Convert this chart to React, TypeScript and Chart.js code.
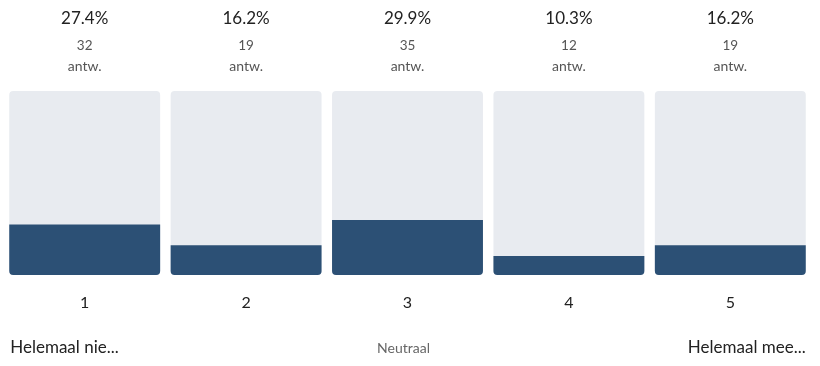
import React, { useEffect, useRef } from "react";
import { Chart, registerables } from "chart.js";

Chart.register(...registerables);

const categories = ["1", "2", "3", "4", "5"];
const percentages = [27.4, 16.2, 29.9, 10.3, 16.2];
const counts = [32, 19, 35, 12, 19];
const countUnit = "antw.";
const fullScale = [100, 100, 100, 100, 100];
const scaleLabels = ["Helemaal nie...", "Neutraal", "Helemaal mee..."];

const FONT = "Lato, 'Noto Sans', sans-serif";

const textPlugin = {
  id: "textPlugin",
  afterDraw(chart: any) {
    const { ctx, scales, chartArea } = chart;
    const x = scales.x;
    const meta = chart.getDatasetMeta(1);
    ctx.save();
    ctx.textAlign = "center";
    ctx.textBaseline = "middle";
    categories.forEach((c, i) => {
      const px = x.getPixelForValue(i);
      ctx.fillStyle = "#222";
      ctx.font = `17px ${FONT}`;
      ctx.fillText(`${percentages[i].toFixed(1)}%`, px, 19);
      ctx.fillStyle = "#555";
      ctx.font = `13.5px ${FONT}`;
      ctx.fillText(String(counts[i]), px, 46);
      ctx.font = `14px ${FONT}`;
      ctx.fillText(countUnit, px, 66);
      ctx.fillStyle = "#222";
      ctx.font = `16px ${FONT}`;
      ctx.fillText(c, px, chartArea.bottom + 28);
    });
    const first = meta.data[0];
    const last = meta.data[meta.data.length - 1];
    const mid = meta.data[2];
    const y = chartArea.bottom + 73;
    ctx.font = `17px ${FONT}`;
    ctx.fillStyle = "#222";
    ctx.textAlign = "left";
    ctx.fillText(scaleLabels[0], first.x - first.width / 2 + 1, y);
    ctx.textAlign = "right";
    ctx.fillText(scaleLabels[2], last.x + last.width / 2, y);
    ctx.textAlign = "center";
    ctx.fillStyle = "#666";
    ctx.font = `14px ${FONT}`;
    ctx.fillText(scaleLabels[1], mid.x - 4, y);
    ctx.restore();
  },
};

export default function App() {
  const ref = useRef<HTMLCanvasElement>(null);
  useEffect(() => {
    if (!ref.current) return;
    const chart = new Chart(ref.current, {
      type: "bar",
      data: {
        labels: categories,
        datasets: [
          {
            data: percentages,
            backgroundColor: "#2c5075",
            borderRadius: { topLeft: 0, topRight: 0, bottomLeft: 4, bottomRight: 4 },
            borderSkipped: false,
            grouped: false,
            order: 0,
            barPercentage: 1,
            categoryPercentage: 0.935,
          } as any,
          {
            data: fullScale,
            backgroundColor: "#e8ebf0",
            borderRadius: 4,
            borderSkipped: false,
            grouped: false,
            order: 1,
            barPercentage: 1,
            categoryPercentage: 0.935,
          } as any,
        ],
      },
      options: {
        animation: false,
        responsive: true,
        maintainAspectRatio: false,
        layout: { padding: { top: 91, bottom: 91, left: 4, right: 9 } },
        plugins: { legend: { display: false }, tooltip: { enabled: false } },
        scales: {
          x: { display: false },
          y: { display: false, min: 0, max: 100 },
        },
      },
      plugins: [textPlugin],
    });
    return () => chart.destroy();
  }, []);
  return (
    <div style={{ position: "absolute", left: 0, top: 0, width: 820, height: 366 }}>
      <canvas ref={ref} />
    </div>
  );
}
